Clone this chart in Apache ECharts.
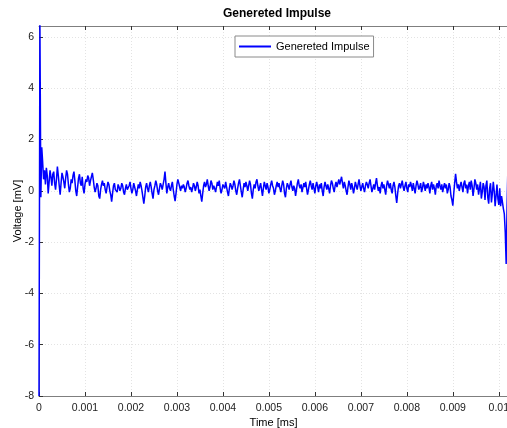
<!DOCTYPE html>
<html><head><meta charset="utf-8">
<script src="https://cdn.jsdelivr.net/npm/echarts@6/dist/echarts.min.js"></script>
<style>html,body{margin:0;padding:0;background:#fff}#c{width:507px;height:428px}</style>
</head><body><div id="c"></div>
<script>
const titleText = 'Genereted Impulse';
const seriesName = 'Genereted Impulse';
const xLabel = 'Time [ms]';
const yLabel = 'Voltage [mV]';
const sampleStep = 0.00002; // ms between samples
const voltage = [
 -8, 6.5, -0.25, 1.7, 1.1, 0.45, 0.8, 0.25, 0.9, 0.6,
 -0.1, 0.35, 0.8, 0.55, 0.2, 0.65, 0.75, 0.3, 0.05, 0.45,
 0.95, 0.6, 0.2, -0.15, 0.3, 0.7, 0.55, 0.35, 0.1, 0.5,
 0.8, 0.65, 0.25, -0.05, 0.1, 0.45, 0.3, 0.6, 0.75, 0.4,
 0.0, -0.2, 0.15, 0.5, 0.65, 0.3, 0.2, 0.55, 0.1, -0.1,
 0.25, 0.45, 0.35, 0.6, 0.5, 0.2, 0.4, 0.55, 0.7, 0.45,
 0.15, -0.05, 0.1, 0.3, 0.2, -0.2, -0.3, 0.05, 0.25, 0.4,
 0.2, 0.3, 0.05, -0.1, 0.15, 0.35, 0.25, 0.0, -0.15, -0.42,
 -0.1, 0.2, 0.3, 0.05, 0.1, -0.05, 0.25, 0.15, 0.0, 0.1,
 0.3, 0.2, -0.05, -0.15, 0.1, 0.25, 0.05, 0.0, 0.2, 0.35,
 0.1, -0.1, 0.05, 0.3, 0.15, 0.0, -0.2, 0.05, 0.25, 0.1,
 0.35, 0.2, 0.0, -0.25, -0.5, -0.2, 0.15, 0.3, 0.1, -0.05,
 0.2, 0.35, 0.15, -0.1, -0.3, 0.05, 0.2, 0.4, 0.25, 0.0,
 -0.15, 0.1, 0.3, 0.2, 0.05, 0.25, 0.45, 0.75, 0.3, -0.1,
 0.15, 0.3, 0.1, 0.0, 0.2, 0.35, 0.05, -0.2, -0.4, -0.1,
 0.25, 0.45, 0.3, 0.15, 0.0, 0.2, 0.1, 0.25, 0.15, -0.05,
 0.1, 0.3, 0.4, 0.2, 0.05, 0.15, -0.05, 0.1, 0.3, 0.2,
 0.0, 0.15, 0.35, 0.2, -0.1, 0.05, -0.2, -0.42, -0.1, 0.2,
 0.35, 0.15, 0.25, 0.45, 0.2, 0.0, 0.15, 0.4, 0.3, 0.05,
 0.2, 0.1, -0.05, 0.15, 0.35, 0.2, 0.4, 0.1, -0.1, 0.05,
 0.25, 0.3, 0.1, 0.35, 0.15, -0.05, -0.2, 0.1, 0.3, 0.2,
 0.05, 0.2, 0.4, 0.25, 0.0, -0.15, 0.1, 0.3, 0.45, 0.2,
 -0.05, -0.25, 0.05, 0.3, 0.15, 0.35, 0.2, 0.0, 0.2, 0.4,
 0.25, -0.1, -0.3, 0.05, 0.25, 0.1, 0.35, 0.45, 0.2, 0.0,
 0.15, 0.3, 0.05, -0.2, 0.1, 0.35, 0.2, 0.05, 0.3, 0.15,
 -0.1, 0.05, 0.25, 0.4, 0.2, 0.1, -0.15, 0.0, 0.2, 0.35,
 0.15, 0.3, 0.1, -0.05, 0.2, 0.4, 0.25, -0.1, -0.25, 0.1,
 0.3, 0.2, 0.05, 0.25, 0.4, 0.15, 0.0, 0.2, 0.1, -0.2,
 0.05, 0.3, 0.45, 0.2, 0.1, 0.25, -0.05, 0.0, 0.3, 0.15,
 0.35, 0.1, -0.15, 0.05, 0.25, 0.4, 0.2, 0.05, 0.3, 0.1,
 -0.1, 0.2, 0.35, 0.15, -0.05, 0.25, 0.1, 0.3, 0.0, -0.2,
 0.15, 0.35, 0.2, 0.05, 0.25, 0.1, -0.1, 0.2, 0.4, 0.3,
 0.1, -0.05, 0.2, 0.35, 0.15, 0.3, 0.45, 0.25, 0.4, 0.55,
 0.3, 0.1, 0.35, 0.2, 0.0, -0.15, 0.15, 0.4, 0.25, 0.05,
 0.3, 0.15, -0.1, 0.1, 0.35, 0.2, 0.05, 0.25, 0.45, 0.2,
 0.0, 0.15, 0.3, 0.1, -0.05, 0.2, 0.35, 0.25, 0.1, 0.3,
 0.45, 0.2, -0.05, 0.1, 0.25, 0.05, 0.3, 0.5, 0.2, 0.0,
 0.15, -0.1, 0.2, 0.35, 0.1, 0.25, 0.05, -0.15, 0.2, 0.4,
 0.25, 0.1, 0.3, 0.05, -0.1, 0.2, 0.35, 0.15, -0.2, -0.47,
 -0.1, 0.2, 0.3, 0.1, 0.25, 0.4, 0.15, 0.0, 0.2, 0.35,
 0.1, -0.05, 0.25, 0.15, 0.35, 0.2, 0.0, 0.3, 0.1, -0.1,
 0.2, 0.4, 0.25, 0.05, 0.15, 0.3, -0.05, 0.1, 0.35, 0.2,
 0.0, 0.25, 0.1, 0.3, 0.15, -0.1, 0.2, 0.35, 0.05, 0.25,
 0.1, -0.15, 0.2, 0.3, 0.1, 0.4, 0.2, 0.05, 0.25, -0.05,
 0.15, 0.3, 0.1, 0.25, -0.1, 0.05, 0.3, 0.15, -0.2, -0.35,
 -0.58, -0.1, 0.3, 0.66, 0.35, 0.1, 0.25, 0.0, 0.2, 0.35,
 0.15, -0.05, 0.3, 0.4, 0.1, 0.25, -0.1, 0.2, 0.35, 0.05,
 0.4, 0.2, -0.2, 0.1, 0.45, 0.3, 0.05, 0.25, -0.15, 0.1,
 0.35, -0.3, -0.05, 0.3, 0.15, -0.35, 0.2, 0.4, -0.25, -0.5,
 0.1, 0.3, -0.45, -0.1, 0.35, 0.0, -0.6, -0.2, 0.25, -0.3,
 -0.55, 0.1, -0.6, -0.2, -0.45, -0.7, -0.9, -1.6, -2.85, -0.6,
 1.1
];
const xTicks = [0, 0.001, 0.002, 0.003, 0.004, 0.005, 0.006, 0.007, 0.008, 0.009, 0.01];
const yTicks = [-8, -6, -4, -2, 0, 2, 4, 6];

const pts = voltage.map((v, i) => [+(i * sampleStep).toFixed(6), v]);
const font = 'Liberation Sans, Arial, sans-serif';
const chart = echarts.init(document.getElementById('c'), null, {renderer: 'canvas'});
const gridLine = {show: true, lineStyle: {color: '#e3e3e3', type: [1, 2], width: 1}};
const frame = {show: true, onZero: false, lineStyle: {color: '#7f7f7f', width: 1}};
chart.setOption({
  animation: false,
  backgroundColor: '#fff',
  title: {text: titleText, left: 272, top: 3, textAlign: 'center',
    textStyle: {fontFamily: font, fontSize: 12, fontWeight: 'bold', color: '#000'}},
  legend: {data: [seriesName], left: 235, top: 36, itemWidth: 32, itemHeight: 2, itemGap: 4,
    padding: [5, 4, 5, 4], backgroundColor: '#fff', borderColor: '#8a8a8a', borderWidth: 1, borderRadius: 0,
    icon: 'rect', textStyle: {fontFamily: font, fontSize: 11, color: '#000', padding: [0, 0, 0, 0]}},
  grid: {left: 39, top: 26, right: -1, bottom: 32, containLabel: false, outerBoundsMode: 'none'},
  xAxis: [{
    type: 'value', min: 0, max: 0.0102, interval: 0.001,
    name: xLabel, nameLocation: 'middle', nameGap: 21, nameMoveOverlap: false,
    nameTextStyle: {fontFamily: font, fontSize: 11, color: '#000', verticalAlign: 'top', padding: 0},
    axisLine: frame,
    axisTick: {show: true, inside: true, length: 4, lineStyle: {color: '#333'}},
    axisLabel: {fontFamily: font, fontSize: 10.5, color: '#222', margin: 7, showMaxLabel: false,
      formatter: v => { const t = xTicks.find(x => Math.abs(x - v) < 1e-9); return t === undefined ? '' : String(t); }},
    splitLine: gridLine
  }, {
    type: 'value', min: 0, max: 0.0102, interval: 0.001, position: 'top',
    axisLine: frame,
    axisTick: {show: true, inside: true, length: 4, lineStyle: {color: '#333'}},
    axisLabel: {show: false}, splitLine: {show: false}
  }],
  yAxis: [{
    type: 'value', min: -8, max: 6.43, interval: 2,
    name: yLabel, nameLocation: 'middle', nameGap: 16, nameRotate: 90, nameMoveOverlap: false,
    nameTextStyle: {fontFamily: font, fontSize: 11, color: '#000', padding: 0},
    axisLine: frame,
    axisTick: {show: true, inside: true, length: 4, lineStyle: {color: '#333'}},
    axisLabel: {fontFamily: font, fontSize: 10.5, color: '#222', margin: 5, showMaxLabel: false,
      formatter: v => yTicks.includes(v) ? String(v) : ''},
    splitLine: gridLine
  }],
  series: [{
    name: seriesName, type: 'line', data: pts, showSymbol: false, symbol: 'none',
    lineStyle: {color: '#0000ff', width: 1.5}, itemStyle: {color: '#0000ff'}, clip: true
  }]
});
</script></body></html>
